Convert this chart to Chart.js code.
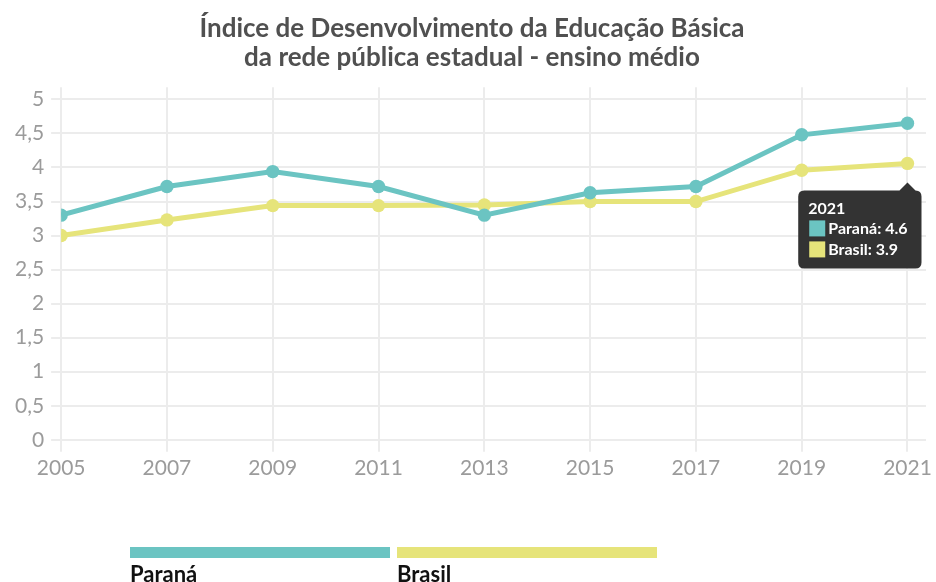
<!DOCTYPE html>
<html lang="pt-BR">
<head>
<meta charset="utf-8">
<title>IDEB - rede pública estadual - ensino médio</title>
<script src="https://cdn.jsdelivr.net/npm/chart.js@4/dist/chart.umd.min.js"></script>
<style>
  html, body { margin: 0; padding: 0; background: #ffffff; }
  #wrap { width: 936px; height: 582px; }
</style>
</head>
<body>
<div id="wrap"><canvas id="c" width="936" height="582"></canvas></div>
<script>
// ---- data ----
const titleLines = ['Índice de Desenvolvimento da Educação Básica', 'da rede pública estadual - ensino médio'];
const years = [2005, 2007, 2009, 2011, 2013, 2015, 2017, 2019, 2021];
const parana = [3.3, 3.72, 3.94, 3.72, 3.3, 3.63, 3.72, 4.48, 4.65];
const brasil = [3.0, 3.23, 3.44, 3.44, 3.45, 3.5, 3.5, 3.96, 4.06];
const seriesNames = ['Paraná', 'Brasil'];
const seriesColors = ['#6bc4c2', '#e6e47a'];
const yTicks = [0, 0.5, 1, 1.5, 2, 2.5, 3, 3.5, 4, 4.5, 5];
const tooltipYear = 2021;
const tooltipValues = [4.6, 3.9];   // values printed in the reference tooltip

Chart.defaults.font.family = 'Lato, "Open Sans", sans-serif';

const toPoints = vals => years.map((yr, i) => ({ x: yr, y: vals[i] }));

Chart.Tooltip.positioners.below = function (items) {
  if (!items.length) return false;
  let x = items[0].element.x, y = -Infinity;
  items.forEach(it => { y = Math.max(y, it.element.y); });
  return { x, y };
};

const stripLegend = {
  id: 'stripLegend',
  afterDraw(chart) {
    const ctx = chart.ctx;
    const startX = 130, barY = 547, barW = 260, barH = 11, gap = 7;
    ctx.save();
    chart.data.datasets.forEach((ds, i) => {
      const x = startX + i * (barW + gap);
      ctx.fillStyle = ds.borderColor;
      ctx.fillRect(x, barY, barW, barH);
      ctx.fillStyle = '#111111';
      ctx.font = 'bold 22px Lato, sans-serif';
      ctx.textBaseline = 'alphabetic';
      ctx.textAlign = 'left';
      ctx.fillText(ds.label, x, 582);
    });
    ctx.restore();
  }
};

const chart = new Chart(document.getElementById('c'), {
  type: 'line',
  data: {
    datasets: [
      { label: seriesNames[0], data: toPoints(parana), borderColor: seriesColors[0], backgroundColor: seriesColors[0],
        borderWidth: 5, pointRadius: 6.7, pointHoverRadius: 6.7, pointBorderWidth: 0, tension: 0 },
      { label: seriesNames[1], data: toPoints(brasil), borderColor: seriesColors[1], backgroundColor: seriesColors[1],
        borderWidth: 5, pointRadius: 6.7, pointHoverRadius: 6.7, pointBorderWidth: 0, tension: 0 }
    ]
  },
  options: {
    responsive: false,
    devicePixelRatio: 1,
    animation: false,
    events: [],
    layout: { padding: { left: 8, right: 0, top: 0, bottom: 97 } },
    interaction: { mode: 'index', intersect: false },
    scales: {
      x: {
        type: 'linear',
        min: years[0],
        max: years[years.length - 1] + 0.35,
        afterBuildTicks: s => { s.ticks = years.map(v => ({ value: v })); },
        ticks: { color: '#9b9b9b', font: { size: 21 }, padding: 4, maxRotation: 0,
                 callback: v => String(v) },
        grid: { color: '#ececec', lineWidth: 2, tickLength: 12, drawTicks: true },
        border: { display: false }
      },
      y: {
        min: 0,
        max: 5.18,
        afterBuildTicks: s => { s.ticks = yTicks.map(v => ({ value: v })); },
        ticks: { color: '#9b9b9b', font: { size: 21 }, padding: 7,
                 callback: v => String(v).replace('.', ',') },
        grid: { color: '#ececec', lineWidth: 2, tickLength: 10 },
        border: { display: false }
      }
    },
    plugins: {
      legend: { display: false },
      title: {
        display: true,
        text: titleLines,
        color: '#505050',
        font: { size: 26, weight: 'bold', lineHeight: 1.08 },
        padding: { top: 15, bottom: 16 }
      },
      tooltip: {
        enabled: true,
        position: 'below',
        xAlign: 'right',
        yAlign: 'top',
        backgroundColor: '#333333',
        titleColor: '#ffffff',
        bodyColor: '#ffffff',
        titleFont: { size: 16, weight: 'bold', lineHeight: 1.0 },
        bodyFont: { size: 16, weight: 'bold', lineHeight: 1.0 },
        titleMarginBottom: 3,
        bodySpacing: 3,
        padding: { top: 10, bottom: 10, left: 10, right: 14 },
        caretSize: 8,
        caretPadding: 19,
        cornerRadius: 6,
        boxWidth: 18,
        boxHeight: 18,
        boxPadding: 0,
        displayColors: true,
        multiKeyBackground: '#333333',
        callbacks: {
          title: items => String(items[0].raw.x),
          label: item => item.dataset.label + ': ' + tooltipValues[item.datasetIndex],
          labelColor: item => ({ borderColor: '#333333', backgroundColor: item.dataset.borderColor, borderWidth: 0.0001 })
        }
      }
    }
  },
  plugins: [stripLegend]
});

const idx = years.indexOf(tooltipYear);
chart.tooltip.setActiveElements([{ datasetIndex: 0, index: idx }, { datasetIndex: 1, index: idx }], { x: 0, y: 0 });
chart.update();
</script>
</body>
</html>
